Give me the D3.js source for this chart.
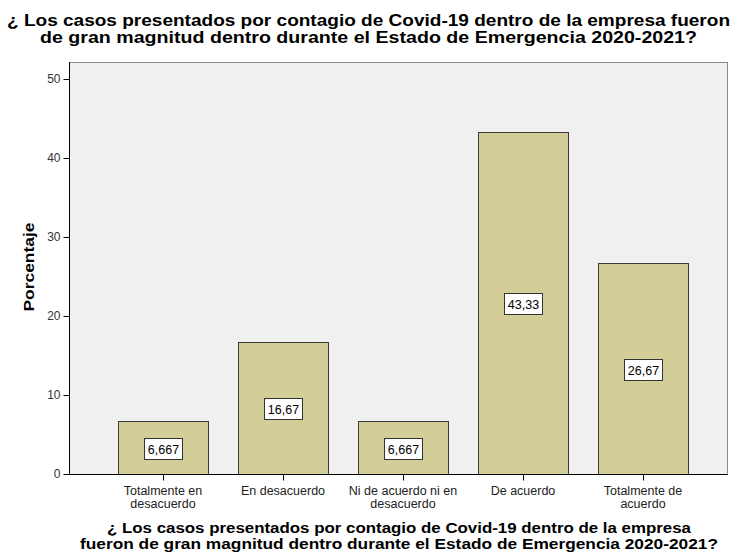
<!DOCTYPE html>
<html>
<head>
<meta charset="utf-8">
<script src="https://cdn.jsdelivr.net/npm/d3@7"></script>
<style>
  body { margin: 0; background: #ffffff; }
  svg text { font-family: "Liberation Sans", Arial, sans-serif; }
</style>
</head>
<body>
<div id="chart"></div>
<script>
// chart data
const categories = [
    ["Totalmente en", "desacuerdo"],
    ["En desacuerdo"],
    ["Ni de acuerdo ni en", "desacuerdo"],
    ["De acuerdo"],
    ["Totalmente de", "acuerdo"]
];
const percentages = [6.667, 16.67, 6.667, 43.33, 26.67];
const valueLabels = ["6,667", "16,67", "6,667", "43,33", "26,67"];
const yTicks = [0, 10, 20, 30, 40, 50];
const titleLines = [
    "¿ Los casos presentados por contagio de Covid-19 dentro de la empresa fueron",
    "de gran magnitud dentro durante el Estado de Emergencia 2020-2021?"
];
const xTitleLines = [
    "¿ Los casos presentados por contagio de Covid-19 dentro de la empresa",
    "fueron de gran magnitud dentro durante el Estado de Emergencia 2020-2021?"
];

const width  = 737;
const height = 557;
const plot = { left: 69, right: 727, top: 62, bottom: 474 };

const keys = categories.map( c => c.join(" ") );

const x = d3.scaleBand()
    .domain( keys )
    .range( [ 103, 703 ] )
    .paddingInner( 0.25 )
    .paddingOuter( 0.125 );

const y = d3.scaleLinear()
    .domain( [ 0, 52.15 ] )
    .range( [ plot.bottom, plot.top ] );

const svg = d3.select("#chart")
    .append("svg")
    .attr("width", width)
    .attr("height", height);

// plot background
svg.append("rect")
    .attr("x", plot.left + 0.5)
    .attr("y", plot.top + 0.5)
    .attr("width", plot.right - plot.left)
    .attr("height", plot.bottom - plot.top)
    .attr("fill", "#f0f0f0")
    .attr("stroke", "#8c8c8c")
    .attr("stroke-width", 1);

// bars
svg.append("g")
    .selectAll("rect")
    .data( percentages )
    .join("rect")
    .attr("x", (d, i) => x( keys[i] ) + 0.5 )
    .attr("y", d => Math.round( y(d) ) + 0.5 )
    .attr("width", x.bandwidth() )
    .attr("height", d => plot.bottom - Math.round( y(d) ) )
    .attr("fill", "#d3ce97")
    .attr("stroke", "#3a3a3a")
    .attr("stroke-width", 1);

// value labels in boxes
const lab = svg.append("g")
    .selectAll("g")
    .data( percentages )
    .join("g")
    .attr("transform", (d, i) => `translate(${ x( keys[i] ) + x.bandwidth() / 2 },${ Math.round( y( d / 2 ) ) })`);

lab.append("rect")
    .attr("x", -18.5)
    .attr("y", -9.5)
    .attr("width", 38)
    .attr("height", 21)
    .attr("fill", "#ffffff")
    .attr("stroke", "#333333")
    .attr("stroke-width", 1);

lab.append("text")
    .attr("x", 0.5)
    .attr("text-anchor", "middle")
    .attr("dy", "5.5")
    .attr("font-size", 12.5)
    .attr("fill", "#000")
    .text( (d, i) => valueLabels[i] );

// y axis
const yAxis = svg.append("g")
    .attr("transform", `translate(${ plot.left + 0.5 },0)`)
    .call( d3.axisLeft( y ).tickValues( yTicks ).tickSize( 6 ).tickPadding( 3 ) );
yAxis.select(".domain").attr("d", `M0,${ plot.top }V${ plot.bottom + 0.5 }`).attr("stroke", "#000");
yAxis.selectAll(".tick line").attr("stroke", "#000");
yAxis.selectAll(".tick text")
    .attr("font-size", 12)
    .attr("fill", "#333")
    .attr("font-family", "Liberation Sans, Arial, sans-serif");

// x axis
const xAxis = svg.append("g")
    .attr("transform", `translate(0.5,${ plot.bottom + 0.5 })`)
    .call( d3.axisBottom( x ).tickSize( 6 ).tickFormat( "" ) );
xAxis.select(".domain").attr("d", `M${ plot.left },0H${ plot.right }`).attr("stroke", "#000");
xAxis.selectAll(".tick line").attr("stroke", "#000");

const xl = svg.append("g")
    .selectAll("text")
    .data( categories )
    .join("text")
    .attr("x", (d, i) => x( keys[i] ) + x.bandwidth() / 2 )
    .attr("y", 495)
    .attr("text-anchor", "middle")
    .attr("font-size", 12.5)
    .attr("fill", "#222");
xl.selectAll("tspan")
    .data( d => d )
    .join("tspan")
    .attr("x", function() { return this.parentNode.getAttribute("x"); })
    .attr("dy", (d, i) => i === 0 ? 0 : 12.5)
    .text( d => d );

// title
const titleLen = [ 723, 657 ];
svg.append("g")
    .selectAll("text")
    .data( titleLines )
    .join("text")
    .attr("x", 368.5)
    .attr("y", (d, i) => 26 + i * 17)
    .attr("text-anchor", "middle")
    .attr("font-size", 16.5)
    .attr("font-weight", "bold")
    .attr("textLength", (d, i) => titleLen[i])
    .attr("lengthAdjust", "spacingAndGlyphs")
    .text( d => d );

// x axis title
const xTitleLen = [ 584, 638 ];
svg.append("g")
    .selectAll("text")
    .data( xTitleLines )
    .join("text")
    .attr("x", 399)
    .attr("y", (d, i) => 533 + i * 16)
    .attr("text-anchor", "middle")
    .attr("font-size", 14.5)
    .attr("font-weight", "bold")
    .attr("textLength", (d, i) => xTitleLen[i])
    .attr("lengthAdjust", "spacingAndGlyphs")
    .text( d => d );

// y axis title
svg.append("text")
    .attr("transform", `translate(34,${ 267 }) rotate(-90)`)
    .attr("text-anchor", "middle")
    .attr("font-size", 15)
    .attr("font-weight", "bold")
    .attr("textLength", 89)
    .attr("lengthAdjust", "spacingAndGlyphs")
    .text("Porcentaje");
</script>
</body>
</html>
